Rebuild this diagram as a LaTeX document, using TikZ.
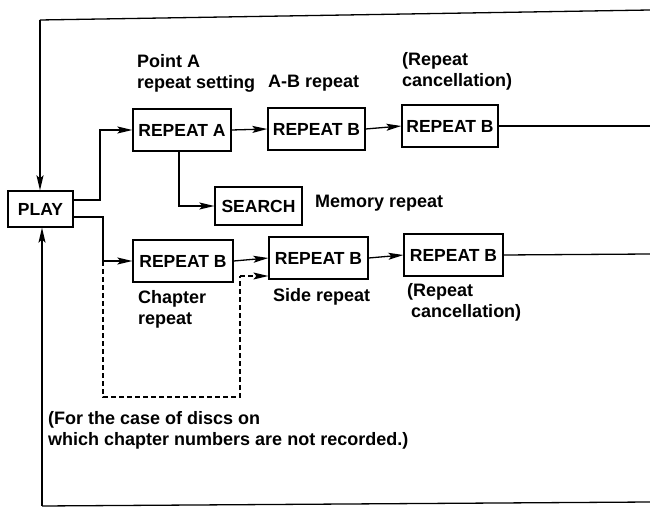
\documentclass[tikz,border=0pt]{standalone}
\usepackage{fontspec}
\setmainfont{Liberation Sans}
\usetikzlibrary{arrows.meta}
\begin{document}
\begin{tikzpicture}[x=1pt,y=-1pt,
  box/.style={draw,line width=1.3pt,minimum width=98pt,minimum height=42pt,inner sep=0pt,
    font=\bfseries\fontsize{17.5}{20}\selectfont},
  lbl/.style={align=left,anchor=north west,inner sep=0pt,
    font=\bfseries\fontsize{18}{21.5}\selectfont},
  conn/.style={line width=1.3pt},
  tip/.style={-{Stealth[length=15pt,width=7pt,inset=3pt]}},
  arr/.style={conn,tip},
  dashconn/.style={line width=1.1pt,dash pattern=on 5pt off 3pt},
]
\useasboundingbox (0,0) rectangle (650,510);

% nodes
\node[box,minimum width=65pt,minimum height=36pt] (play) at (40.5,209) {PLAY};
\node[box] (ra)  at (182,130) {REPEAT A};
\node[box,minimum width=97pt] (rb1) at (316.5,129) {REPEAT B};
\node[box,minimum width=96pt] (rb2) at (450,126) {REPEAT B};
\node[box,minimum width=87pt,minimum height=38pt] (search) at (258.5,206) {SEARCH};
\node[box,minimum width=100pt] (cb1) at (183,261) {REPEAT B};
\node[box,minimum width=99pt] (cb2) at (318.5,258) {REPEAT B};
\node[box,minimum width=99pt] (cb3) at (453.5,255) {REPEAT B};

% frame coordinates
\coordinate (tl) at (40,20);
\coordinate (tr) at (650,10);
\coordinate (bl) at (42,506);
\coordinate (br) at (650,502);
\coordinate (e1) at (650,126);
\coordinate (e2) at (650,254);
\coordinate (j1) at (100,200);
\coordinate (j2) at (103,217);
\coordinate (d1) at (103,397);
\coordinate (d2) at (240,397);
\coordinate (d3) at (240,276);

% frame
\draw[conn] (tr) -- (tl);
\draw[arr] (tl) -- (play.north -| tl);
\draw[conn] (br) -- (bl);
\draw[arr] (bl) -- (play.south -| bl);
\draw[conn] (rb2.east) -- (e1);
\draw[conn] (cb3.east) -- (e2);

% upper path
\draw[arr] (play.east |- j1) -- (j1) |- (ra.west);
\draw[arr] (ra.east) -- (rb1.west);
\draw[arr] (rb1.east) -- (rb2.west);
\draw[arr] (ra.south -| 179,0) |- (search.west);

% lower path
\draw[arr] (play.east |- j2) -- (j2) |- (cb1.west);
\draw[arr] (cb1.east) -- (cb2.west);
\draw[arr] (cb2.east) -- (cb3.west);

% dashed path
\draw[dashconn] (j2 |- cb1.west) -- (d1) -- (d2) -- (d3);
\draw[dashconn,tip] (d3) -- (d3 -| cb2.west);

% labels
\node[lbl] (l1) at (137,54) {Point A\\repeat setting};
\node[lbl,anchor=west] (l2) at (268,83) {A-B repeat};
\node[lbl] (l3) at (402,52) {(Repeat\\cancellation)};
\node[lbl,anchor=west] (l4) at (315,203) {Memory repeat};
\node[lbl] (l5) at (138,290) {Chapter\\repeat};
\node[lbl,anchor=west] (l6) at (273,297) {Side repeat};
\node[lbl] (l7) at (407,283) {(Repeat\\\hspace*{4pt}cancellation)};
\node[lbl] (l8) at (48,411) {(For the case of discs on\\which chapter numbers are not recorded.)};
\end{tikzpicture}
\end{document}
